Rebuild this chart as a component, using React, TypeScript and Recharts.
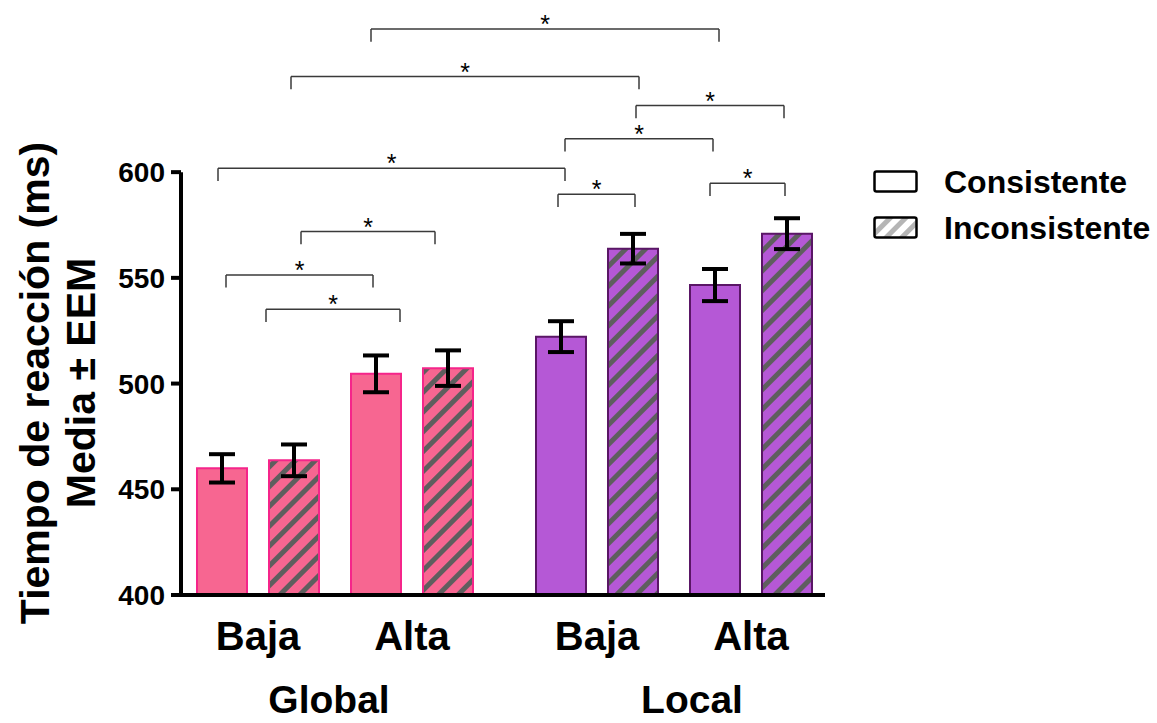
import React from "react";
import {
  ComposedChart,
  Bar,
  Cell,
  XAxis,
  YAxis,
  ErrorBar,
  ReferenceLine,
  ReferenceDot,
  Legend,
} from "recharts";

// ---- data ----
const groups = ["Global", "Local"];
const levels = ["Baja", "Alta"];
const conditions = ["Consistente", "Inconsistente"];

// order: Global-Baja (C, I), Global-Alta (C, I), Local-Baja (C, I), Local-Alta (C, I)
const meanRT = [459.9, 463.7, 504.6, 507.3, 522.2, 563.8, 546.6, 570.9];
const semRT = [6.7, 7.5, 8.7, 8.4, 7.3, 7.0, 7.6, 7.3];

const yTicks = [400, 450, 500, 550, 600];

// significance brackets: [from, to, height in ms] on the x position axis
const brackets = [
  [190, 538, 667.7],
  [110, 458, 645.2],
  [455, 603, 631.5],
  [384, 532, 615.8],
  [37, 384, 601.8],
  [529, 604, 594.7],
  [377, 454, 589.5],
  [120, 254, 571.9],
  [45, 192, 551.4],
  [85, 219, 535.1],
];

// ---- layout ----
const FONT = "'Liberation Sans', Arial, sans-serif";
const X_START = 41;
const GROUP_STEP = 339;
const LEVEL_STEP = 154;
const COND_STEP = 72;
const TICK_DROP = 6; // bracket leg length in ms
const groupLabelPos = [148, 511];

const colors = {
  Global: { fill: "#F76691", stroke: "#F5258A", hatch: "url(#hatchPink)" },
  Local: { fill: "#B558D6", stroke: "#5A1666", hatch: "url(#hatchPurple)" },
};

const barPos = (g: number, l: number, c: number) =>
  X_START + g * GROUP_STEP + l * LEVEL_STEP + c * COND_STEP;

const data = meanRT.map((v, i) => {
  const g = Math.floor(i / 4);
  const l = Math.floor(i / 2) % 2;
  const c = i % 2;
  return {
    x: barPos(g, l, c),
    mean: v,
    sem: semRT[i],
    group: groups[g],
    level: levels[l],
    cond: conditions[c],
  };
});

const levelTicks: number[] = [];
const levelTickLabels: string[] = [];
groups.forEach((_, g) =>
  levels.forEach((lv, l) => {
    levelTicks.push(barPos(g, l, 0) + COND_STEP / 2);
    levelTickLabels.push(lv);
  })
);

const LevelTick = (props: any) => {
  const { x, y, payload, index } = props;
  const i = payload?.index ?? index;
  return (
    <text
      x={x}
      y={y + 41}
      textAnchor="middle"
      dominantBaseline="central"
      fontFamily={FONT}
      fontWeight="bold"
      fontSize={40}
      fill="#000"
    >
      {levelTickLabels[i]}
    </text>
  );
};

const GroupTick = (props: any) => {
  const { x, y, payload, index } = props;
  const i = payload?.index ?? index;
  return (
    <text
      x={x}
      y={y + 36}
      textAnchor="middle"
      dominantBaseline="central"
      fontFamily={FONT}
      fontWeight="bold"
      fontSize={39}
      fill="#000"
    >
      {groups[i]}
    </text>
  );
};

const YLabel = () => (
  <g fontFamily={FONT} fontWeight="bold" fontSize={41} fill="#000">
    <text
      transform="translate(35,383) rotate(-90)"
      textAnchor="middle"
      dominantBaseline="central"
    >
      Tiempo de reacción (ms)
    </text>
    <text
      transform="translate(81,383) rotate(-90)"
      textAnchor="middle"
      dominantBaseline="central"
    >
      Media ± EEM
    </text>
  </g>
);

const LegendBox = () => (
  <div style={{ fontFamily: FONT, fontWeight: "bold", fontSize: 32, color: "#000" }}>
    {conditions.map((c, i) => (
      <div key={c} style={{ display: "flex", alignItems: "center", height: 46 }}>
        <svg width={46} height={24} style={{ marginRight: 25 }}>
          <rect
            x={1.5}
            y={1.5}
            width={42}
            height={20}
            rx={2}
            fill={i === 0 ? "#fff" : "url(#hatchLegend)"}
            stroke="#000"
            strokeWidth={2.5}
          />
        </svg>
        <span>{c}</span>
      </div>
    ))}
  </div>
);

const Star = (p: any) => (
  <text
    x={p.cx}
    y={p.cy + 4}
    textAnchor="middle"
    fontFamily={FONT}
    fontSize={25}
    fill="#000"
  >
    *
  </text>
);

export default function App() {
  return (
    <div style={{ position: "absolute", left: 0, top: 0, width: 1157, height: 723 }}>
      <svg width={0} height={0} style={{ position: "absolute" }}>
        <defs>
          <pattern id="hatchPink" patternUnits="userSpaceOnUse" width="14" height="14" patternTransform="rotate(45)">
            <rect width="14" height="14" fill={colors.Global.fill} />
            <rect width="5" height="14" fill="#5E5E5E" />
          </pattern>
          <pattern id="hatchPurple" patternUnits="userSpaceOnUse" width="14" height="14" patternTransform="rotate(45)">
            <rect width="14" height="14" fill={colors.Local.fill} />
            <rect width="5" height="14" fill="#5E5E5E" />
          </pattern>
          <pattern id="hatchLegend" patternUnits="userSpaceOnUse" width="11" height="11" patternTransform="rotate(45)">
            <rect width="11" height="11" fill="#fff" />
            <rect width="5" height="11" fill="#B5B5B5" />
          </pattern>
        </defs>
      </svg>
      <ComposedChart
        width={1157}
        height={723}
        data={data}
        margin={{ top: 3, right: 332, bottom: 0, left: 0 }}
      >
        <XAxis
          dataKey="x"
          type="number"
          domain={[0, 644]}
          ticks={levelTicks}
          interval={0}
          tickLine={false}
          tickSize={0}
          tickMargin={0}
          tick={<LevelTick />}
          axisLine={{ stroke: "#000", strokeWidth: 4 }}
          height={68}
        />
        <XAxis
          xAxisId="grp"
          dataKey="x"
          type="number"
          domain={[0, 644]}
          ticks={groupLabelPos}
          interval={0}
          tickLine={false}
          tickSize={0}
          tickMargin={0}
          tick={<GroupTick />}
          axisLine={false}
          height={60}
        />
        <YAxis
          type="number"
          domain={[400, 680]}
          ticks={yTicks}
          interval={0}
          width={181}
          axisLine={false}
          tickLine={{ stroke: "#000", strokeWidth: 4 }}
          tickSize={10}
          tickMargin={6}
          tick={{ fontFamily: FONT, fontWeight: "bold", fontSize: 28, fill: "#000" }}
          label={<YLabel />}
        />
        <ReferenceLine
          segment={[{ x: 0, y: 400 }, { x: 0, y: 600 }]}
          stroke="#000"
          strokeWidth={4}
          ifOverflow="visible"
        />
        <Bar dataKey="mean" barSize={50} isAnimationActive={false} strokeWidth={2}>
          {data.map((d, i) => {
            const c = colors[d.group as "Global" | "Local"];
            return (
              <Cell
                key={i}
                fill={d.cond === "Consistente" ? c.fill : c.hatch}
                stroke={c.stroke}
              />
            );
          })}
          <ErrorBar
            dataKey="sem"
            width={13}
            strokeWidth={4}
            stroke="#000"
            direction="y"
            isAnimationActive={false}
          />
        </Bar>
        {brackets.map(([x1, x2, y], i) => (
          <React.Fragment key={i}>
            <ReferenceLine
              segment={[{ x: x1, y }, { x: x2, y }]}
              stroke="#3a3a3a"
              strokeWidth={1.5}
              ifOverflow="visible"
            />
            <ReferenceLine
              segment={[{ x: x1, y }, { x: x1, y: y - TICK_DROP }]}
              stroke="#3a3a3a"
              strokeWidth={1.5}
              ifOverflow="visible"
            />
            <ReferenceLine
              segment={[{ x: x2, y }, { x: x2, y: y - TICK_DROP }]}
              stroke="#3a3a3a"
              strokeWidth={1.5}
              ifOverflow="visible"
            />
            <ReferenceDot
              x={(x1 + x2) / 2}
              y={y}
              r={0}
              shape={Star}
              ifOverflow="visible"
            />
          </React.Fragment>
        ))}
        <Legend
          layout="horizontal"
          verticalAlign="middle"
          align="center"
          content={<LegendBox />}
          wrapperStyle={{ left: 873, top: 159, width: 284, height: 100 }}
        />
      </ComposedChart>
    </div>
  );
}
